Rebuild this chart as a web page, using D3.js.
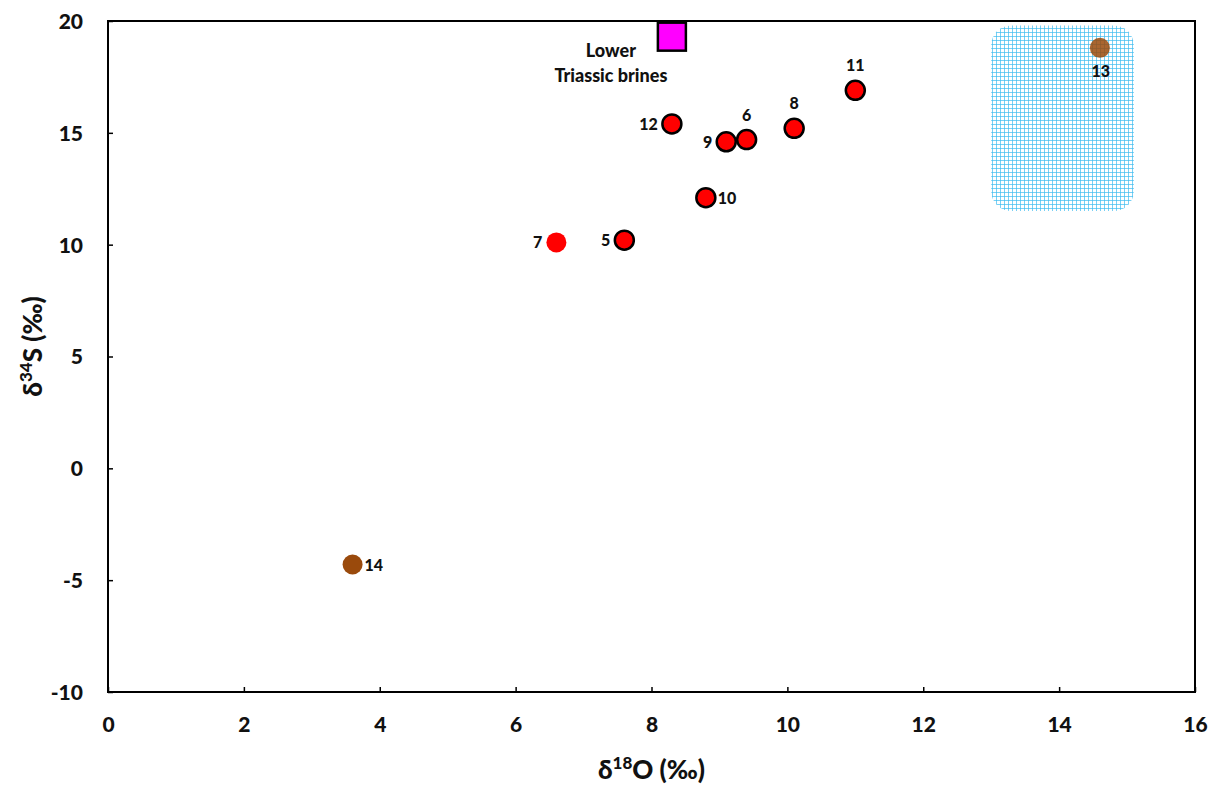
<!DOCTYPE html>
<html>
<head>
<meta charset="utf-8">
<script src="https://cdn.jsdelivr.net/npm/d3@7"></script>
<style>
  body { margin: 0; background: #fff; }
  svg text { font-family: Lato, "Open Sans", sans-serif; font-weight: 900; fill: #111; }
</style>
</head>
<body>
<svg id="chart" width="1220" height="785"></svg>
<script>
// Sample points: delta18O vs delta34S
const sampleIds  = ["5", "6", "7", "8", "9", "10", "11", "12"];
const sampleO18  = [7.6, 9.4, 6.6, 10.1, 9.1, 8.8, 11.0, 8.3];
const sampleS34  = [10.2, 14.7, 10.1, 15.2, 14.6, 12.1, 16.9, 15.4];
const sampleEdge = [true, true, false, true, true, true, true, true];
const labelSide  = ["left", "top", "left", "top", "left", "right", "top", "left"];

// Brown-coloured samples
const brownIds = ["13", "14"];
const brownO18 = [14.6, 3.6];
const brownS34 = [18.8, -4.3];
const brownSide = ["bottom", "right"];

// Lower Triassic brines reference
const brineO18 = [8.3];
const brineS34 = [19.3];
const brineLabel = ["Lower", "Triassic brines"];

// Shaded field (O18 range, S34 range)
const fieldO18 = [13.0, 15.1];
const fieldS34 = [11.5, 19.8];

const xTicks = [0, 2, 4, 6, 8, 10, 12, 14, 16];
const yTicks = [-10, -5, 0, 5, 10, 15, 20];

const svg = d3.select("#chart");
const plotL = 108, plotR = 1195, plotT = 21, plotB = 692;

const x = d3.scaleLinear().domain([0, 16]).range([plotL, plotR]);
const y = d3.scaleLinear().domain([-10, 20]).range([plotB, plotT]);

// grid-like hatch for the shaded field
const defs = svg.append("defs");
const pat = defs.append("pattern")
  .attr("id", "hatch").attr("patternUnits", "userSpaceOnUse")
  .attr("width", 4).attr("height", 4);
pat.append("rect").attr("x", 0).attr("y", 0).attr("width", 4).attr("height", 1)
  .attr("fill", "#3fbdf0").attr("opacity", 0.7);
pat.append("rect").attr("x", 0).attr("y", 0).attr("width", 1).attr("height", 4)
  .attr("fill", "#3fbdf0").attr("opacity", 0.7);

// axes with inward ticks
const xAxis = d3.axisBottom(x).tickValues(xTicks).tickSize(-5).tickPadding(25).tickFormat(d3.format("d"));
const yAxis = d3.axisLeft(y).tickValues(yTicks).tickSize(-5).tickPadding(25).tickFormat(d => d);

const gx = svg.append("g").attr("transform", `translate(0,${plotB})`).call(xAxis);
const gy = svg.append("g").attr("transform", `translate(${plotL},0)`).call(yAxis);
[gx, gy].forEach(g => {
  g.select(".domain").remove();
  g.selectAll("line").attr("stroke", "#000").attr("stroke-width", 1.5);
  g.selectAll("text").style("font-size", "21px").style("font-family", "Lato, sans-serif")
    .style("font-weight", "900").attr("fill", "#111");
});
gy.selectAll("text").attr("dy", "0.35em");

// frame
svg.append("rect").attr("x", plotL).attr("y", plotT)
  .attr("width", plotR - plotL).attr("height", plotB - plotT)
  .attr("fill", "none").attr("stroke", "#000").attr("stroke-width", 2);

// shaded field
svg.append("rect")
  .attr("x", x(fieldO18[0])).attr("y", y(fieldS34[1]))
  .attr("width", x(fieldO18[1]) - x(fieldO18[0]))
  .attr("height", y(fieldS34[0]) - y(fieldS34[1]))
  .attr("rx", 20).attr("ry", 20)
  .attr("fill", "url(#hatch)");

// brown samples (slightly translucent so the field grid shows through)
const brown = brownIds.map((id, i) => ({id, o: brownO18[i], s: brownS34[i], side: brownSide[i]}));
svg.selectAll("circle.brown").data(brown).enter().append("circle")
  .attr("class", "brown")
  .attr("cx", d => x(d.o)).attr("cy", d => y(d.s)).attr("r", 10)
  .attr("fill", "#9a4a0c")
  .attr("fill-opacity", d => d.side === "bottom" ? 0.85 : 1);

// red samples
const samples = sampleIds.map((id, i) => ({id, o: sampleO18[i], s: sampleS34[i], edge: sampleEdge[i], side: labelSide[i]}));
svg.selectAll("circle.sample").data(samples).enter().append("circle")
  .attr("class", "sample")
  .attr("cx", d => x(d.o)).attr("cy", d => y(d.s))
  .attr("r", d => d.edge ? 9.5 : 10)
  .attr("fill", "#ff0000")
  .attr("stroke", d => d.edge ? "#000" : "none")
  .attr("stroke-width", 2.5);

// brine square
const sq = 28;
svg.selectAll("rect.brine").data(brineO18).enter().append("rect")
  .attr("class", "brine")
  .attr("x", (d) => x(d) - sq / 2).attr("y", (d, i) => y(brineS34[i]) - sq / 2)
  .attr("width", sq).attr("height", sq)
  .attr("fill", "#ff00ff").attr("stroke", "#000").attr("stroke-width", 2.5);

// point labels
function placeLabel(d) {
  const cx = x(d.o), cy = y(d.s);
  const t = svg.append("text").text(d.id).style("font-size", "16px");
  if (d.side === "top") t.attr("x", cx).attr("y", cy - 19).attr("text-anchor", "middle");
  else if (d.side === "bottom") t.attr("x", cx + 1).attr("y", cy + 29).attr("text-anchor", "middle").attr("fill", "#0d2233");
  else if (d.side === "left") t.attr("x", cx - 14).attr("y", cy + 6).attr("text-anchor", "end");
  else t.attr("x", cx + 12).attr("y", cy + 6).attr("text-anchor", "start");
}
samples.forEach(placeLabel);
brown.forEach(placeLabel);

brineLabel.forEach((line, i) => {
  svg.append("text").text(line)
    .attr("x", x(brineO18[0]) - 61).attr("y", y(brineS34[0]) + 20 + i * 25)
    .attr("text-anchor", "middle").style("font-size", "18px");
});

// axis titles
const xt = svg.append("text").attr("x", x(8)).attr("y", 779)
  .attr("text-anchor", "middle").style("font-size", "26px");
xt.append("tspan").text("δ");
xt.append("tspan").text("18").attr("dy", -10).style("font-size", "17px");
xt.append("tspan").text("O (‰)").attr("dy", 10);

const yt = svg.append("text")
  .attr("transform", `translate(42,${(plotT + plotB) / 2 - 10}) rotate(-90)`)
  .attr("text-anchor", "middle").style("font-size", "26px");
yt.append("tspan").text("δ");
yt.append("tspan").text("34").attr("dy", -10).style("font-size", "17px");
yt.append("tspan").text("S (‰)").attr("dy", 10);
</script>
</body>
</html>
